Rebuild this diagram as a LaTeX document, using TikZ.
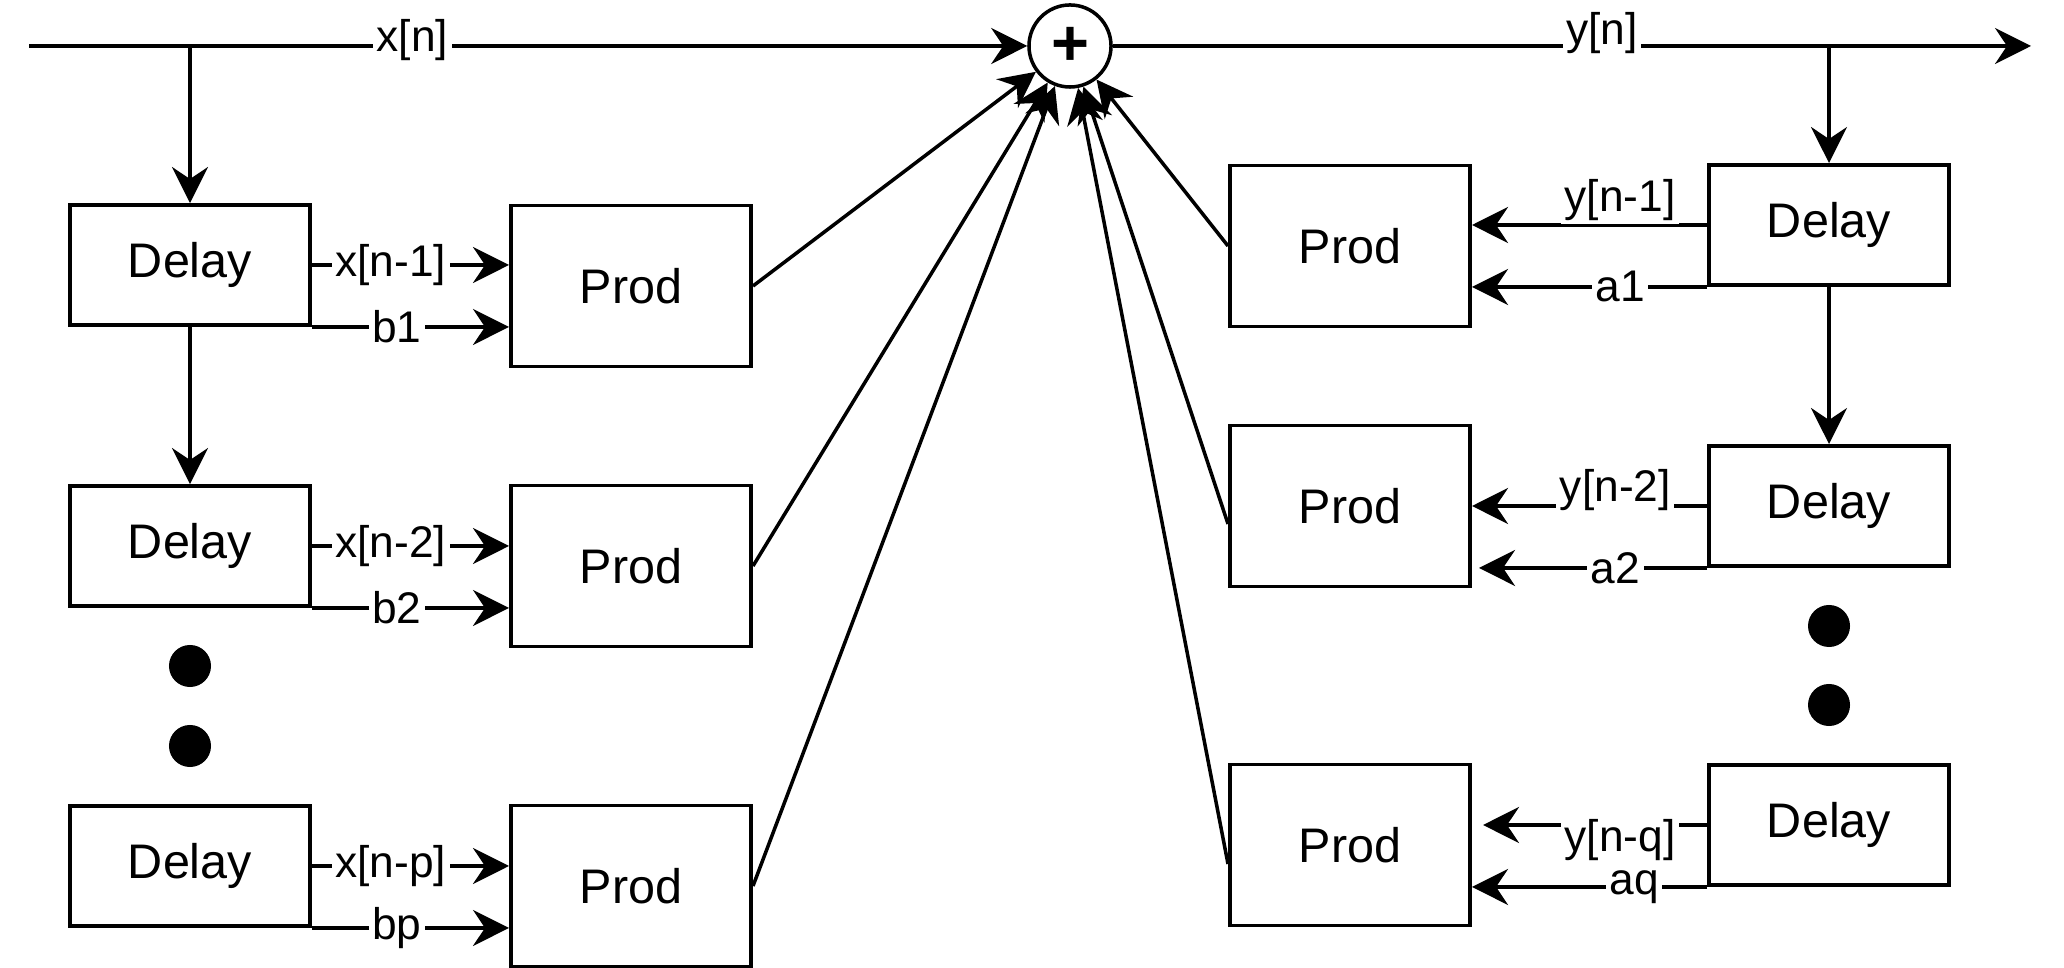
\documentclass[tikz,border=0pt]{standalone}
\usepackage{fontspec}
\setmainfont{Liberation Sans}
\usetikzlibrary{positioning, calc, arrows.meta}

\begin{document}
\begin{tikzpicture}[x=0.01cm, y=-0.01cm, line width=1pt,
    >={Stealth[length=0.36cm, width=0.36cm, inset=0.12cm]},
    block/.style={draw, line width=1.1pt, minimum width=2.4cm, inner sep=0pt, font=\fontsize{13.8}{16}\selectfont},
    delay/.style={block, minimum height=1.2cm},
    prod/.style={block, minimum height=1.61cm},
    lbl/.style={fill=white, inner sep=1pt, font=\fontsize{12.6}{14}\selectfont},
    dot/.style={circle, fill=black, minimum size=0.42cm, inner sep=0pt}]
                    \useasboundingbox (0,0) rectangle (2064,968);
                    \node[circle, draw, minimum size=0.82cm, inner sep=0pt, font=\bfseries\fontsize{18.5}{19}\selectfont] (sum) at (1070,46) {+};
                    \node[delay] (DL1) at (190,265) {Delay};
                    \node[delay] (DL2) at (190,546) {Delay};
                    \node[delay] (DL3) at (190,866) {Delay};
                    \node[prod] (PL1) at (631,286) {Prod};
                    \node[prod] (PL2) at (631,566) {Prod};
                    \node[prod] (PL3) at (631,886) {Prod};
                    \node[delay] (DR1) at (1829,225) {Delay};
                    \node[delay] (DR2) at (1829,506) {Delay};
                    \node[delay] (DR3) at (1829,825) {Delay};
                    \node[prod] (PR1) at (1350,246) {Prod};
                    \node[prod] (PR2) at (1350,506) {Prod};
                    \node[prod] (PR3) at (1350,845) {Prod};
                    \node[dot] (dotL1) at (190,666) {};
                    \node[dot] (dotL2) at (190,746) {};
                    \node[dot] (dotR1) at (1829,626) {};
                    \node[dot] (dotR2) at (1829,705) {};
                    \coordinate (xin) at (29,46);
                    \coordinate (yout) at (2031,46);
                    \draw[->] (xin) -- node[lbl, pos=0.384, yshift=0.06cm] {x[n]} (sum);
                    \draw[->] (sum) -- node[lbl, pos=0.533, yshift=0.13cm] {y[n]} (yout);
                    \draw[->] (DL1.north |- xin) -- (DL1.north);
                    \draw[->] (DL1.south) -- (DL2.north);
                    \draw[->] (DR1.north |- yout) -- (DR1.north);
                    \draw[->] (DR1.south) -- (DR2.north);
                    \draw[->] (DL1.east) -- node[lbl, pos=0.4] {x[n-1]} (DL1.east -| PL1.west);
                    \draw[->] (DL1.south east) -- node[lbl, pos=0.43] {b1} (DL1.south east -| PL1.west);
                    \draw[->] (DL2.east) -- node[lbl, pos=0.4] {x[n-2]} (DL2.east -| PL2.west);
                    \draw[->] (DL2.south east) -- node[lbl, pos=0.43] {b2} (DL2.south east -| PL2.west);
                    \draw[->] (DL3.east) -- node[lbl, pos=0.4] {x[n-p]} (DL3.east -| PL3.west);
                    \draw[->] (DL3.south east) -- node[lbl, pos=0.43] {bp} (DL3.south east -| PL3.west);
                    \draw[->] (DR1.west) -- node[lbl, pos=0.37, yshift=0.25cm] {y[n-1]} (DR1.west -| PR1.east);
                    \draw[->] (DR1.south west) -- node[lbl, pos=0.37] {a1} (DR1.south west -| PR1.east);
                    \draw[->] (DR2.west) -- node[lbl, pos=0.39, yshift=0.16cm] {y[n-2]} (DR2.west -| PR2.east);
                    \draw[->, shorten >=0.07cm] (DR2.south west) -- node[lbl, pos=0.39] {a2} (DR2.south west -| PR2.east);
                    \draw[->, shorten >=0.11cm] (DR3.west) -- node[lbl, pos=0.37, yshift=-0.15cm] {y[n-q]} (DR3.west -| PR3.east);
                    \draw[->] (DR3.south west) -- node[lbl, pos=0.31] {aq} (DR3.south west -| PR3.east);
                    \draw[->] (PL1.east) -- (sum);
                    \draw[->] (PL2.east) -- (sum);
                    \draw[->] (PL3.east) -- (sum);
                    \draw[->] (PR1.west) -- (sum);
                    \draw[->] ($(PR2.west)+(0,18)$) -- (sum);
                    \draw[->] ($(PR3.west)+(0,19)$) -- (sum);
                \end{tikzpicture}
\end{document}
